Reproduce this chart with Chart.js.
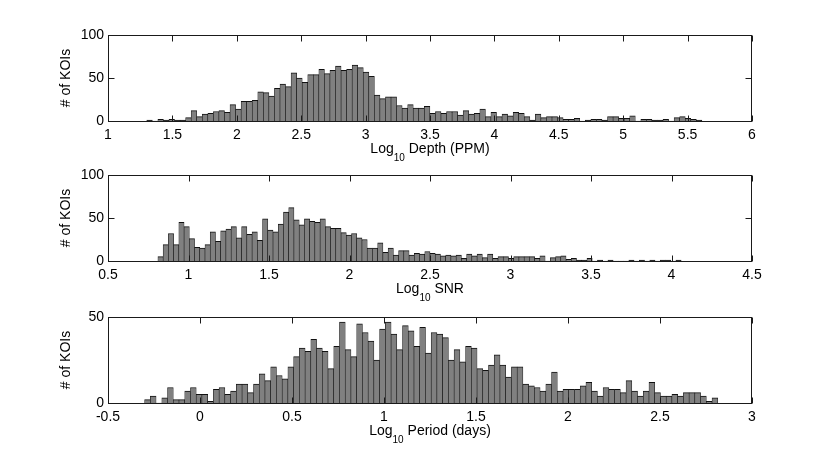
<!DOCTYPE html>
<html lang="en">
<head>
<meta charset="UTF-8">
<title>KOI histograms</title>
<script src="https://cdn.jsdelivr.net/npm/chart.js"></script>
<style>
  html, body { margin: 0; padding: 0; background: #fff; }
  .panel { position: absolute; left: 0; width: 830px; height: 146px; }
</style>
</head>
<body>
<div class="panel" style="top:20px"><canvas id="depthChart"></canvas></div>
<div class="panel" style="top:160px"><canvas id="snrChart"></canvas></div>
<div class="panel" style="top:302px"><canvas id="periodChart"></canvas></div>

<script>
// histogram counts, 100 bins each
var depthCounts = [1, 0, 2, 1, 2, 1, 1, 4, 12, 5,
  8, 9, 11, 12, 10, 19, 14, 23, 23, 24,
  34, 33, 29, 38, 43, 40, 56, 50, 45, 54,
  54, 60, 55, 59, 64, 59, 60, 65, 62, 57,
  52, 30, 26, 28, 28, 18, 15, 19, 15, 15,
  17, 9, 11, 9, 11, 11, 7, 12, 8, 9,
  14, 5, 10, 5, 8, 6, 10, 9, 5, 1,
  8, 4, 5, 5, 4, 2, 2, 3, 0, 1,
  2, 2, 1, 5, 5, 3, 3, 6, 0, 2,
  2, 1, 1, 2, 0, 4, 5, 3, 2, 1];

var snrCounts = [5, 19, 32, 19, 45, 40, 26, 16, 15, 19,
  34, 23, 35, 37, 40, 27, 40, 31, 34, 24,
  49, 36, 34, 43, 57, 62, 48, 42, 49, 46,
  45, 49, 40, 38, 38, 33, 30, 32, 27, 25,
  15, 15, 21, 10, 15, 7, 12, 12, 7, 9,
  8, 11, 9, 8, 6, 7, 6, 7, 3, 8,
  6, 8, 4, 8, 3, 5, 5, 3, 5, 5,
  5, 5, 3, 6, 0, 4, 5, 6, 2, 3,
  1, 1, 3, 0, 1, 0, 1, 0, 0, 0,
  1, 0, 1, 0, 1, 0, 1, 1, 0, 1];

var periodCounts = [2, 4, 0, 3, 9, 2, 2, 7, 9, 5,
  5, 1, 8, 9, 5, 7, 11, 11, 6, 11,
  17, 13, 21, 16, 14, 21, 27, 32, 30, 37,
  32, 30, 20, 33, 47, 31, 27, 46, 41, 36,
  25, 43, 47, 40, 31, 45, 42, 33, 44, 29,
  41, 40, 38, 25, 31, 24, 33, 32, 20, 19,
  22, 28, 22, 15, 21, 21, 11, 10, 9, 7,
  11, 18, 7, 8, 8, 8, 10, 12, 7, 4,
  9, 8, 8, 6, 13, 7, 4, 7, 12, 6,
  4, 4, 5, 4, 6, 6, 6, 4, 1, 3];

// bin layout: left edge of first bin and bin width (log10 units)
var depthBins = [1.301, 0.0431];
var snrBins = [0.810, 0.0325];
var periodBins = [-0.301, 0.03115];

// axis ranges: x min, x max, y max
var depthRange = [1, 6, 100];
var snrRange = [0.5, 4.5, 100];
var periodRange = [-0.5, 3, 50];
var yLabel = '# of KOIs';
var depthTitle = 'Depth (PPM)';
var snrTitle = 'SNR';
var periodTitle = 'Period (days)';

var FONT = '"Liberation Sans", Arial, Helvetica, sans-serif';
Chart.defaults.font.family = FONT;
Chart.defaults.font.size = 14;
Chart.defaults.color = '#000';

// frame, inward ticks on all sides, and axis titles (subscripted "10")
var framePlugin = {
  id: 'frame',
  afterDraw: function(chart) {
    var ctx = chart.ctx, a = chart.chartArea;
    var xs = chart.scales.x, ys = chart.scales.y;
    var L = Math.round(a.left) + 0.5, R = Math.round(a.right) - 0.5;
    var T = Math.round(a.top) + 0.5, B = Math.round(a.bottom) + 0.5;
    ctx.save();
    ctx.strokeStyle = '#1a1a1a';
    ctx.lineWidth = 1;
    ctx.beginPath();
    xs.ticks.forEach(function(t) {
      var px = Math.round(xs.getPixelForValue(t.value)) + 0.5;
      ctx.moveTo(px, B); ctx.lineTo(px, B - 6);
      ctx.moveTo(px, T); ctx.lineTo(px, T + 6);
    });
    ys.ticks.forEach(function(t) {
      var py = Math.round(ys.getPixelForValue(t.value)) + 0.5;
      ctx.moveTo(L, py); ctx.lineTo(L + 6, py);
      ctx.moveTo(R, py); ctx.lineTo(R - 6, py);
    });
    ctx.stroke();
    ctx.strokeRect(L, T, R - L, B - T);

    // x title: Log_10 <rest>
    var rest = ' ' + chart.options.plugins.frame.title;
    ctx.fillStyle = '#000';
    ctx.textBaseline = 'alphabetic';
    ctx.textAlign = 'left';
    ctx.font = '14px ' + FONT;
    var w1 = ctx.measureText('Log').width;
    var w3 = ctx.measureText(rest).width;
    ctx.font = '10px ' + FONT;
    var w2 = ctx.measureText('10').width;
    var x = (a.left + a.right) / 2 - (w1 + w2 + w3) / 2;
    var base = a.bottom + 31.5;
    ctx.font = '14px ' + FONT;
    ctx.fillText('Log', x, base);
    ctx.font = '10px ' + FONT;
    ctx.fillText('10', x + w1, base + 8);
    ctx.font = '14px ' + FONT;
    ctx.fillText(rest, x + w1 + w2, base);

    // y title
    ctx.translate(66.5, (a.top + a.bottom) / 2);
    ctx.rotate(-Math.PI / 2);
    ctx.textAlign = 'center';
    ctx.textBaseline = 'middle';
    ctx.fillText(yLabel, 0, 0);
    ctx.restore();
  }
};

function makePanel(id, counts, bins, range, title) {
  var pts = counts.map(function(c, i) {
    return { x: bins[0] + (i + 0.5) * bins[1], y: c };
  });
  return new Chart(document.getElementById(id), {
    type: 'bar',
    data: {
      datasets: [{
        data: pts,
        // start bars just under the axis line so one-count bins keep a visible edge
        base: -range[2] / 85,
        backgroundColor: '#808080',
        borderColor: '#111',
        borderWidth: { top: 1, left: 0.6, right: 0.6, bottom: 0 },
        borderSkipped: false,
        barPercentage: 1,
        categoryPercentage: 1
      }]
    },
    options: {
      responsive: true,
      maintainAspectRatio: false,
      animation: false,
      layout: { padding: { top: 15, right: 78, left: 0, bottom: 0 } },
      plugins: {
        legend: { display: false },
        tooltip: { enabled: false },
        frame: { title: title }
      },
      scales: {
        x: {
          type: 'linear',
          offset: false,
          min: range[0],
          max: range[1],
          grid: { display: false, drawTicks: false },
          border: { display: false },
          ticks: {
            stepSize: 0.5,
            padding: 6,
            maxRotation: 0,
            callback: function(v) { return String(v); }
          },
          afterFit: function(s) { s.height = 45; }
        },
        y: {
          min: 0,
          max: range[2],
          grid: { display: false, drawTicks: false },
          border: { display: false },
          ticks: { stepSize: 50, padding: 4 },
          afterFit: function(s) { s.width = 108; }
        }
      }
    },
    plugins: [framePlugin]
  });
}

makePanel('depthChart', depthCounts, depthBins, depthRange, depthTitle);
makePanel('snrChart', snrCounts, snrBins, snrRange, snrTitle);
makePanel('periodChart', periodCounts, periodBins, periodRange, periodTitle);
</script>
</body>
</html>
